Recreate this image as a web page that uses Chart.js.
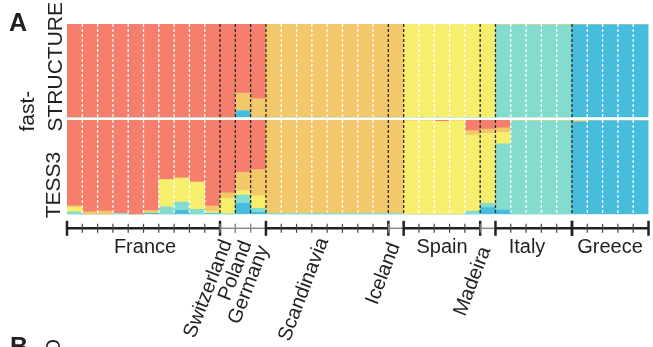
<!DOCTYPE html>
<html>
<head>
<meta charset="utf-8">
<script src="https://cdn.jsdelivr.net/npm/chart.js@4/dist/chart.umd.min.js"></script>
<style>
    body { margin: 0; background: #fff; }
    #page { position: relative; width: 653px; height: 347px; overflow: hidden; font-family: "Liberation Sans", Arial, sans-serif; color: #231f20; }
    canvas { position: absolute; left: 0; }
    .lbl { position: absolute; font-size: 20px; line-height: 20px; white-space: nowrap; }
    .hz { width: 100px; text-align: center; }
    .rot { transform-origin: 100% 50%; transform: rotate(-69deg); }
    .vert { position: absolute; font-size: 21px; white-space: nowrap; transform: rotate(-90deg); }
    .big { position: absolute; font-size: 25px; line-height: 25px; font-weight: bold; }
</style>
</head>
<body>
<div id="page">
    <canvas id="top-chart" width="653" height="120" style="top:0"></canvas>
    <canvas id="bottom-chart" width="653" height="125" style="top:120px"></canvas>

    <div class="big" style="left:9px; top:10px">A</div>
    <div class="big" style="left:10px; top:334px">B</div>

    <div class="vert" style="left:-25px; top:39px; width:130px; height:55px; line-height:27.5px; text-align:left">fast-<br>STRUCTURE</div>
    <div class="vert" style="left:3px; top:174px; width:100px; height:22px; line-height:22px; text-align:center">TESS3</div>
    <div class="vert" style="left:42px; top:336px; width:22px; height:22px; line-height:22px; text-align:center">O</div>

    <div class="lbl hz" style="left:95px; top:236px">France</div>
    <div class="lbl hz" style="left:392px; top:236px">Spain</div>
    <div class="lbl hz" style="left:477px; top:236px">Italy</div>
    <div class="lbl hz" style="left:560px; top:236px">Greece</div>

    <div class="lbl rot" style="right:428px; top:230px">Switzerland</div>
    <div class="lbl rot" style="right:408px; top:231px">Poland</div>
    <div class="lbl rot" style="right:391px; top:236px">Germany</div>
    <div class="lbl rot" style="right:331px; top:228px">Scandinavia</div>
    <div class="lbl rot" style="right:260px; top:233px">Iceland</div>
    <div class="lbl rot" style="right:169px; top:237px">Madeira</div>
</div>

<script>
// ===== DADOS =====

const groups = ['France', 'Switzerland', 'Poland', 'Germany', 'Scandinavia', 'Iceland', 'Spain', 'Madeira', 'Italy', 'Greece'];
const groupSizes = [10, 1, 1, 1, 8, 1, 5, 1, 5, 5];

const clusterNames = ['blue', 'teal', 'yellow', 'orange', 'red'];
const clusterColors = ['#47bcdd', '#84dccf', '#f6ee6c', '#f2c86a', '#f57e6c'];

// fastSTRUCTURE (painel de cima), uma coluna por amostra
const structBlue   = [0,0,0,0,0,0,0,0,0,0, 0, 0.07, 0,    0,0,0,0,0,0,0,0, 0, 0,0,0,0,0, 0, 0,0,0,0,0, 0.99,0.99,0.99,0.99,0.99];
const structTeal   = [0,0,0,0,0,0,0,0,0,0, 0, 0,    0,    0,0,0,0,0,0,0,0, 0, 0,0,0,0,0, 0, 0.99,0.99,0.99,0.99,0.99, 0,0,0,0,0];
const structYellow = [0,0,0,0,0,0,0,0,0,0, 0, 0,    0,    0,0,0,0,0,0,0,0, 0, 1,1,1,1,1, 1, 0,0,0,0,0, 0,0,0,0,0];
const structOrange = [0,0,0,0,0,0,0,0,0,0, 0, 0.19, 0.2,  1,1,1,1,1,1,1,1, 1, 0,0,0,0,0, 0, 0.01,0.01,0.01,0.01,0.01, 0.01,0.01,0.01,0.01,0.01];
const structRed    = [1,1,1,1,1,1,1,1,1,1, 1, 0.74, 0.8,  0,0,0,0,0,0,0,0, 0, 0,0,0,0,0, 0, 0,0,0,0,0, 0,0,0,0,0];

// TESS3 (painel de baixo)
const tessBlue   = [0, 0, 0, 0, 0, 0.01, 0, 0.042, 0, 0.008, 0, 0.117, 0.02,
                    0,0,0,0,0,0,0,0, 0, 0,0,0,0,0, 0.071, 0.046,0,0,0,0, 0.98,0.99,0.99,0.99,0.99];
const tessTeal   = [0.025, 0, 0, 0.008, 0, 0, 0.078, 0.088, 0.053, 0.005, 0.008, 0.088, 0.042,
                    0.01,0.01,0.01,0.01,0.01,0.01,0.01,0.01, 0.01, 0,0,0,0,0.035, 0.046, 0.70,0.99,0.99,0.99,0.99, 0,0,0,0,0];
const tessYellow = [0.05, 0, 0, 0, 0, 0, 0.29, 0.255, 0.29, 0.015, 0.16, 0.046, 0.135,
                    0,0,0,0,0,0,0,0, 0, 0.99,0.99,0.985,0.99,0.806, 0.742, 0.124,0,0,0,0, 0.01,0,0,0,0];
const tessOrange = [0.015, 0.025, 0.035, 0, 0, 0.03, 0, 0, 0, 0.06, 0.06, 0.195, 0.276,
                    0.99,0.99,0.99,0.99,0.99,0.99,0.99,0.99, 0.99, 0.01,0.01,0,0.01,0.046, 0.046, 0.046,0.01,0.01,0.01,0.01, 0.01,0.01,0.01,0.01,0.01];
const tessRed    = [0.91, 0.975, 0.965, 0.992, 1, 0.96, 0.632, 0.615, 0.657, 0.912, 0.772, 0.554, 0.527,
                    0,0,0,0,0,0,0,0, 0, 0,0,0.015,0,0.113, 0.095, 0.084,0,0,0,0, 0,0,0,0,0];

// ===== AUXILIARES =====

const sampleLabels = [];
const sampleGroup = [];
groups.forEach((g, gi) => {
    for (let k = 0; k < groupSizes[gi]; k++) {
        sampleLabels.push(g + ' ' + (k + 1));
        sampleGroup.push(gi);
    }
});

const makeDatasets = (series) => series.map((data, i) => ({
    label: clusterNames[i],
    data: data,
    backgroundColor: clusterColors[i],
    borderWidth: 0,
    barPercentage: 1,
    categoryPercentage: 1
}));

// linhas tracejadas entre as amostras (pretas entre grupos, brancas dentro)
const separatorPlugin = {
    id: 'separators',
    afterDatasetsDraw(chart) {
        const { ctx, chartArea, scales } = chart;
        const x = scales.x;
        ctx.save();
        ctx.lineWidth = 1.3;
        ctx.setLineDash([3, 2]);
        for (let i = 1; i < sampleLabels.length; i++) {
            const px = (x.getPixelForValue(i - 1) + x.getPixelForValue(i)) / 2;
            ctx.strokeStyle = sampleGroup[i] !== sampleGroup[i - 1] ? '#2a2a2a' : 'rgba(255,255,255,0.95)';
            ctx.beginPath();
            ctx.moveTo(px, chartArea.top);
            ctx.lineTo(px, chartArea.bottom);
            ctx.stroke();
        }
        ctx.restore();
    }
};

// eixo de grupos sob o painel TESS3
const groupAxisPlugin = {
    id: 'groupAxis',
    afterDraw(chart) {
        const { ctx, chartArea, scales } = chart;
        const x = scales.x;
        const half = (x.getPixelForValue(1) - x.getPixelForValue(0)) / 2;
        const edge = (i) => x.getPixelForValue(i) - half;
        const y = chartArea.bottom + 14;
        ctx.save();
        let start = 0;
        groups.forEach((g, gi) => {
            const n = groupSizes[gi];
            const multi = n > 1;
            const x0 = edge(start), x1 = edge(start + n);
            ctx.strokeStyle = multi ? '#222' : '#8a8a8a';
            ctx.lineWidth = multi ? 2.5 : 1.5;
            ctx.beginPath();
            ctx.moveTo(x0, y);
            ctx.lineTo(x1, y);
            ctx.stroke();
            for (let b = start; b <= start + n; b++) {
                const isEnd = multi && (b === start || b === start + n);
                const px = edge(b);
                if (isEnd) {
                    ctx.strokeStyle = '#222';
                    ctx.lineWidth = 2.5;
                    ctx.beginPath();
                    ctx.moveTo(px, y - 7.5);
                    ctx.lineTo(px, y + 7.5);
                    ctx.stroke();
                } else if (b > start && b < start + n || !multi) {
                    ctx.strokeStyle = multi ? '#444' : '#8a8a8a';
                    ctx.lineWidth = 1.2;
                    ctx.beginPath();
                    ctx.moveTo(px, y - 4.5);
                    ctx.lineTo(px, y + 4.5);
                    ctx.stroke();
                }
            }
            start += n;
        });
        ctx.restore();
    }
};

// ===== GRÁFICOS =====

const createPanelConfig = (series, padding, plugins) => ({
    type: 'bar',
    data: { labels: sampleLabels, datasets: makeDatasets(series) },
    options: {
        responsive: false,
        animation: false,
        devicePixelRatio: 1,
        layout: { padding: padding },
        plugins: { legend: { display: false }, tooltip: { enabled: false } },
        scales: {
            x: { display: false, stacked: true },
            y: { display: false, stacked: true, min: 0, max: 1 }
        }
    },
    plugins: plugins
});

new Chart(document.getElementById('top-chart'), createPanelConfig(
    [structBlue, structTeal, structYellow, structOrange, structRed],
    { left: 67, right: 4.5, top: 24, bottom: 2.7 },
    [separatorPlugin]
));

new Chart(document.getElementById('bottom-chart'), createPanelConfig(
    [tessBlue, tessTeal, tessYellow, tessOrange, tessRed],
    { left: 67, right: 4.5, top: 0, bottom: 30.7 },
    [separatorPlugin, groupAxisPlugin]
));
</script>
</body>
</html>
